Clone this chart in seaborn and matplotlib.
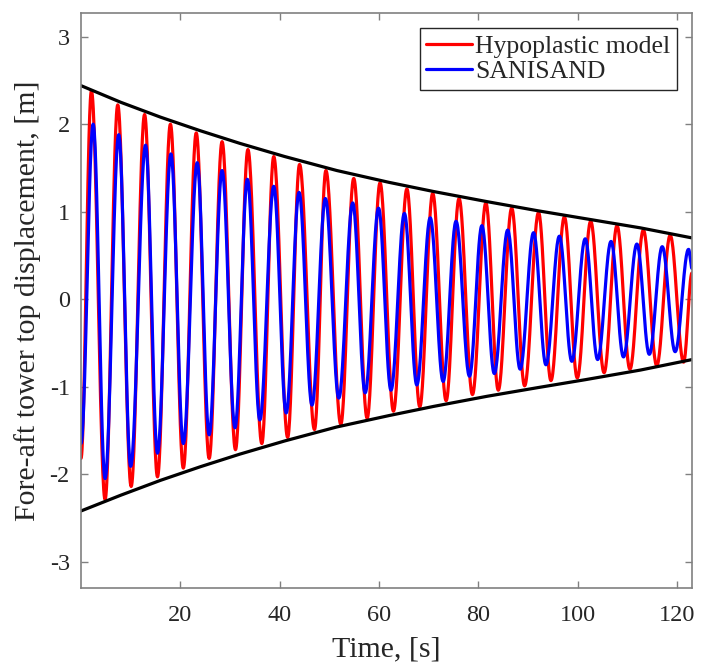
import numpy as np
import pandas as pd
import matplotlib
matplotlib.use('Agg')
import matplotlib.pyplot as plt
import seaborn as sns

# values (time [s], displacement [m])
t_start = 0.0
t_end = 123.0

# Hypoplastic model: start/end values, peaks and troughs
hypo_start_y = -1.82
hypo_end_y = 0.30
hypo_peak_t = [2.1, 7.4, 12.8, 18.0, 23.2, 28.4, 33.6, 38.8, 44.0, 49.3, 54.9, 60.2,
               65.6, 70.8, 76.1, 81.5, 86.7, 92.1, 97.3, 102.6, 107.9, 113.2, 118.6]
hypo_peak_y = [2.38, 2.22, 2.11, 2.00, 1.90, 1.80, 1.71, 1.63, 1.54, 1.47, 1.38, 1.33,
               1.26, 1.21, 1.15, 1.10, 1.04, 0.99, 0.94, 0.89, 0.84, 0.79, 0.73]
hypo_trough_t = [4.85, 10.1, 15.4, 20.6, 25.8, 31.1, 36.4, 41.6, 47.0, 52.3, 57.6, 62.9,
                 68.2, 73.5, 78.8, 84.0, 89.3, 94.6, 99.9, 105.3, 110.5, 115.9, 121.3]
hypo_trough_y = [-2.29, -2.14, -2.03, -1.93, -1.82, -1.72, -1.65, -1.58, -1.49, -1.43, -1.36, -1.28,
                 -1.23, -1.16, -1.09, -1.04, -0.99, -0.93, -0.90, -0.84, -0.80, -0.76, -0.72]

# SANISAND
sani_start_y = -1.65
sani_end_y = 0.35
sani_peak_t = [2.45, 7.6, 13.0, 18.1, 23.4, 28.4, 33.5, 38.8, 43.9, 49.2, 54.7, 59.9,
               65.1, 70.3, 75.5, 80.7, 85.9, 91.1, 96.3, 101.5, 106.7, 111.9, 117.0, 122.3]
sani_peak_y = [2.00, 1.88, 1.76, 1.66, 1.56, 1.47, 1.37, 1.29, 1.22, 1.15, 1.10, 1.04,
               0.98, 0.93, 0.89, 0.84, 0.79, 0.76, 0.72, 0.69, 0.66, 0.63, 0.60, 0.57]
sani_trough_t = [4.85, 10.0, 15.4, 20.6, 25.8, 31.0, 36.0, 41.3, 46.5, 51.9, 57.2, 62.4,
                 67.6, 72.9, 78.2, 83.2, 88.4, 93.6, 98.8, 104.0, 109.2, 114.4, 119.6]
sani_trough_y = [-2.05, -1.91, -1.76, -1.65, -1.55, -1.47, -1.38, -1.30, -1.21, -1.13, -1.07, -1.04,
                 -0.98, -0.94, -0.88, -0.85, -0.80, -0.75, -0.71, -0.69, -0.66, -0.63, -0.60]

# decay envelope
env_t = [0, 8, 16, 24, 32, 41, 51.5, 62, 71, 81.7, 92, 101.5, 112.6, 123]
env_upper = [2.44, 2.25, 2.08, 1.925, 1.78, 1.63, 1.47, 1.335, 1.23, 1.115, 1.01, 0.92, 0.815, 0.70]
env_lower = [-2.42, -2.24, -2.07, -1.915, -1.77, -1.62, -1.46, -1.33, -1.225, -1.11, -1.01, -0.92, -0.81, -0.69]


def through_extrema(start_y, peak_t, peak_y, trough_t, trough_y, end_y, n=30):
    # smooth half-wave between successive read extrema
    kt = np.array([t_start] + list(peak_t) + list(trough_t) + [t_end])
    ky = np.array([start_y] + list(peak_y) + list(trough_y) + [end_y])
    order = np.argsort(kt)
    kt, ky = kt[order], ky[order]
    tt, yy = [], []
    for i in range(len(kt) - 1):
        s = np.linspace(0, 1, n, endpoint=False)
        tt.append(kt[i] + s * (kt[i + 1] - kt[i]))
        yy.append(ky[i] + (ky[i + 1] - ky[i]) * (1 - np.cos(np.pi * s)) / 2)
    tt.append([kt[-1]])
    yy.append([ky[-1]])
    return np.concatenate(tt), np.concatenate(yy)


ht, hy = through_extrema(hypo_start_y, hypo_peak_t, hypo_peak_y, hypo_trough_t, hypo_trough_y, hypo_end_y)
st, sy = through_extrema(sani_start_y, sani_peak_t, sani_peak_y, sani_trough_t, sani_trough_y, sani_end_y)
df_hypo = pd.DataFrame({'t': ht, 'u': hy})
df_sani = pd.DataFrame({'t': st, 'u': sy})
df_env = pd.DataFrame({'t': env_t, 'upper': env_upper, 'lower': env_lower})

sns.set_style('ticks')
plt.rcParams['font.family'] = ['Liberation Serif', 'DejaVu Serif']

fig, ax = plt.subplots(figsize=(7.03, 6.70), dpi=100)
fig.subplots_adjust(left=0.1152, right=0.9844, bottom=0.1224, top=0.9806)

sns.lineplot(data=df_hypo, x='t', y='u', color='#ff0000', lw=2.3, estimator=None,
             label='Hypoplastic model', ax=ax)
sns.lineplot(data=df_sani, x='t', y='u', color='#0000ff', lw=2.3, estimator=None,
             label='SANISAND', ax=ax)
sns.lineplot(data=df_env, x='t', y='upper', color='black', lw=2.3, estimator=None, legend=False, ax=ax)
sns.lineplot(data=df_env, x='t', y='lower', color='black', lw=2.3, estimator=None, legend=False, ax=ax)

ax.set_xlim(0, 123)
ax.set_ylim(-3.3, 3.27)
ax.set_xticks([20, 40, 60, 80, 100, 120])
ax.set_yticks([-3, -2, -1, 0, 1, 2, 3])
ax.set_yticklabels(['-3', '-2', '-1', '0', '1', '2', '3'])
ax.set_xlabel('Time, [s]', fontsize=21.5, color='#262626', labelpad=8)
ax.set_ylabel('Fore-aft tower top displacement, [m]', fontsize=21.5, color='#262626', labelpad=6)

for sp in ax.spines.values():
    sp.set_visible(True)
    sp.set_color('#808080')
    sp.set_linewidth(1.2)
ax.tick_params(direction='in', length=5, width=1, color='#808080', labelsize=17.5,
               labelcolor='#262626', top=True, right=True)
ax.tick_params(axis='x', pad=12)
ax.tick_params(axis='y', pad=8)

leg = ax.legend(loc='upper right', fontsize=18.5, frameon=True, fancybox=False,
                edgecolor='#262626', framealpha=1, handlelength=1.8, handletextpad=0.1,
                borderpad=0.25, labelspacing=0.1, borderaxespad=0.6)
leg.get_frame().set_linewidth(1.0)

plt.savefig('out.png', dpi=100)
